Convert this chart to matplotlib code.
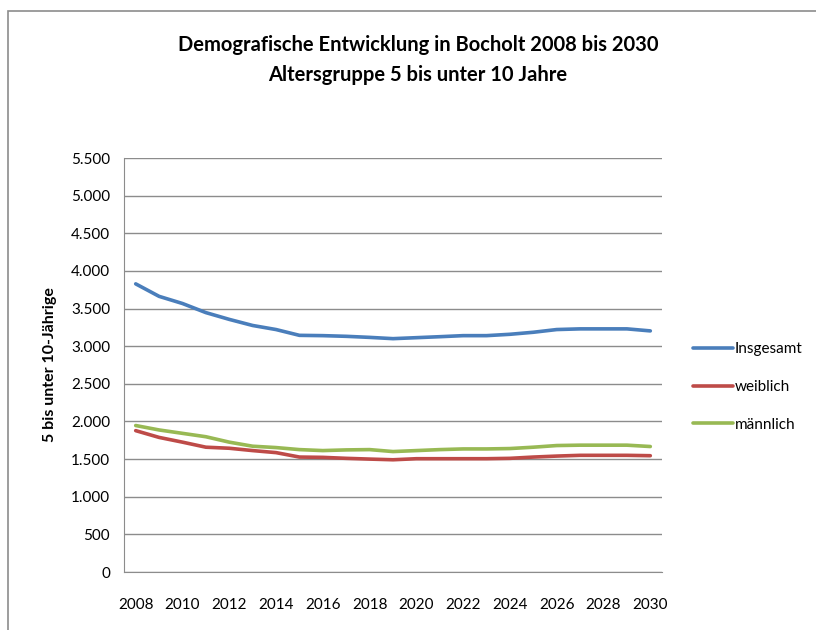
import matplotlib
matplotlib.use("Agg")
import matplotlib.pyplot as plt
from matplotlib.patches import Rectangle
from matplotlib.ticker import FuncFormatter, MultipleLocator

years = list(range(2008, 2031))
insgesamt = [3828, 3662, 3567, 3446, 3356, 3275, 3221, 3144, 3140, 3131, 3117, 3100,
             3113, 3126, 3140, 3140, 3158, 3185, 3221, 3230, 3230, 3230, 3203]
weiblich = [1878, 1788, 1725, 1658, 1644, 1613, 1586, 1527, 1523, 1510, 1500, 1491,
            1505, 1505, 1505, 1505, 1510, 1527, 1540, 1550, 1550, 1550, 1545]
maennlich = [1946, 1887, 1842, 1797, 1725, 1671, 1653, 1626, 1613, 1622, 1626, 1600,
             1613, 1626, 1635, 1635, 1640, 1658, 1680, 1685, 1685, 1685, 1667]
series_names = ["Insgesamt", "weiblich", "männlich"]
colors = ["#4A7EBB", "#BE4B48", "#98B954"]
title = "Demografische Entwicklung in Bocholt 2008 bis 2030\nAltersgruppe 5 bis unter 10 Jahre"
ylabel = "5 bis unter 10-Jährige"

plt.rcParams['font.family'] = ['Lato', 'DejaVu Sans']

W, H = 816, 630
fig = plt.figure(figsize=(W / 100, H / 100), dpi=100)

# outer chart frame
fig.patches.append(Rectangle((8 / W, -0.1), 1.2, 1 - 11 / H + 0.1, transform=fig.transFigure,
                             fill=False, edgecolor="#8c8c8c", linewidth=1.2))

ax = fig.add_axes([124 / W, 1 - 572 / H, 538 / W, 414 / H])
x = list(range(len(years)))
for vals, name, c in zip([insgesamt, weiblich, maennlich], series_names, colors):
    ax.plot(x, vals, color=c, linewidth=2.6, label=name, solid_capstyle="round")

ax.set_xlim(-0.5, len(years) - 0.5)
ax.set_ylim(0, 5500)
ax.yaxis.set_major_locator(MultipleLocator(500))
ax.yaxis.set_major_formatter(FuncFormatter(lambda v, p: f"{int(v):,}".replace(",", ".")))
ax.set_xticks(x[::2])
ax.set_xticklabels([str(y) for y in years[::2]])
ax.grid(axis="y", color="#8c8c8c", linewidth=1)
ax.set_axisbelow(True)
for s in ["top", "right"]:
    ax.spines[s].set_visible(False)
ax.spines["left"].set_color("#8c8c8c")
ax.spines["bottom"].set_color("#8c8c8c")
ax.tick_params(axis="both", length=0, labelsize=11, colors="black")
ax.tick_params(axis="y", pad=10)
ax.tick_params(axis="x", pad=19)

ax.set_ylabel(ylabel, fontsize=11.5, fontweight="bold", labelpad=10)

fig.text(418 / W, 1 - 60 / H, title, ha="center", va="center", fontsize=14.5,
         fontweight="bold", linespacing=1.6)

leg = fig.legend(loc="center left", bbox_to_anchor=(687 / W, 1 - 387 / H), frameon=False,
                 fontsize=11, handlelength=2.6, handletextpad=0.15, labelspacing=1.55,
                 borderaxespad=0)

fig.savefig("out.png", dpi=100)
